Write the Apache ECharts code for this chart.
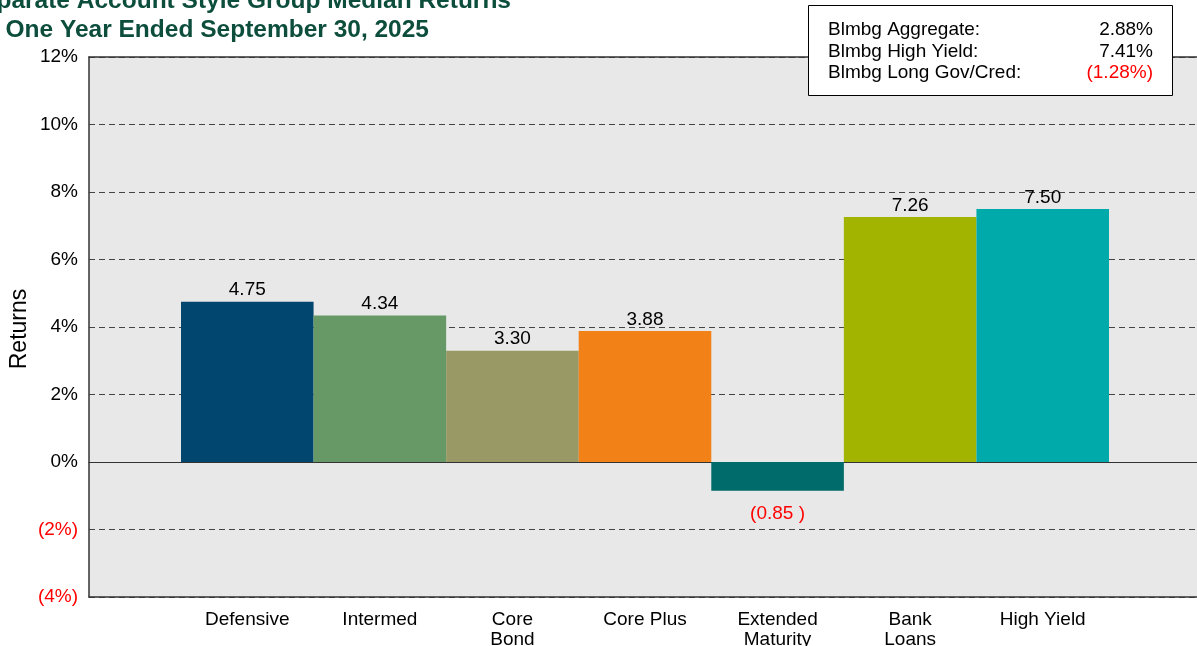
<!DOCTYPE html>
<html>
<head>
<meta charset="utf-8">
<script src="https://cdn.jsdelivr.net/npm/echarts@6/dist/echarts.min.js"></script>
<style>
html,body{margin:0;padding:0;background:#fff;}
#chart{width:1197px;height:646px;}
</style>
</head>
<body>
<div id="chart"></div>
<script>
const categories = ['Defensive', 'Intermed', 'Core\nBond', 'Core Plus', 'Extended\nMaturity', 'Bank\nLoans', 'High Yield'];
const returns = [4.75, 4.34, 3.30, 3.88, -0.85, 7.26, 7.50];
const barColors = ['#00466E', '#669966', '#999966', '#F28118', '#006B6B', '#A2B300', '#00A9AA'];
const yTicks = { min: -4, max: 12, interval: 2 };
const titleLines = ['Separate Account Style Group Median Returns', 'for One Year Ended September 30, 2025'];
const benchNames = ['Blmbg Aggregate:', 'Blmbg High Yield:', 'Blmbg Long Gov/Cred:'];
const benchValues = [2.88, 7.41, -1.28];

const FONT = 'Arial, "Liberation Sans", sans-serif';
const fmtPct = v => v < 0 ? '(' + Math.abs(v) + '%)' : v + '%';
const fmtBench = v => v < 0 ? '(' + Math.abs(v).toFixed(2) + '%)' : v.toFixed(2) + '%';

const chart = echarts.init(document.getElementById('chart'), null, { renderer: 'canvas' });

const graphics = [
  { type: 'text', x: 511, y: 1, style: { text: titleLines[0], textAlign: 'right', textVerticalAlign: 'middle', fill: '#0D4D3C', font: 'bold 24.5px ' + FONT } },
  { type: 'text', x: 429, y: 30, style: { text: titleLines[1], textAlign: 'right', textVerticalAlign: 'middle', fill: '#0D4D3C', font: 'bold 24.5px ' + FONT } },
  { type: 'text', x: 20, y: 329, rotation: Math.PI / 2, style: { text: 'Returns', textAlign: 'center', textVerticalAlign: 'middle', fill: '#000', font: '23px ' + FONT } },
  { type: 'rect', shape: { x: 808.5, y: 5.5, width: 364, height: 90 }, style: { fill: '#fff', stroke: '#000', lineWidth: 1 }, z: 10 }
];
benchNames.forEach((n, i) => {
  graphics.push({ type: 'text', x: 828, y: 30 + i * 21.5, z: 11, style: { text: n, textAlign: 'left', textVerticalAlign: 'middle', fill: '#000', font: '19px ' + FONT } });
  graphics.push({ type: 'text', x: 1153, y: 30 + i * 21.5, z: 11, style: { text: fmtBench(benchValues[i]), textAlign: 'right', textVerticalAlign: 'middle', fill: benchValues[i] < 0 ? '#FF0000' : '#000', font: '19px ' + FONT } });
});

const frameLine = { show: true, onZero: false, lineStyle: { color: '#333', width: 1.5 } };

const option = {
  animation: false,
  graphic: graphics,
  grid: [
    { left: 89, width: 1140, top: 57, bottom: 49, outerBoundsMode: 'none', containLabel: false, show: true, backgroundColor: '#E8E8E8', borderWidth: 0 },
    { left: 181, width: 928, top: 57, bottom: 49, outerBoundsMode: 'none', containLabel: false }
  ],
  xAxis: [
    { type: 'category', gridIndex: 0, data: ['a'], axisLine: { show: true, onZero: true, lineStyle: { color: '#333', width: 1 } }, axisTick: { show: false }, axisLabel: { show: false }, splitLine: { show: false } },
    { type: 'category', gridIndex: 1, data: categories, axisLine: { show: false }, axisTick: { show: false },
      axisLabel: { margin: 13, fontSize: 19, lineHeight: 20, color: '#000', fontFamily: FONT, interval: 0, align: 'center', verticalAlign: 'top' } },
    { type: 'category', gridIndex: 0, position: 'top', data: ['a'], axisLine: frameLine, axisTick: { show: false }, axisLabel: { show: false }, splitLine: { show: false } },
    { type: 'category', gridIndex: 0, position: 'bottom', data: ['a'], axisLine: frameLine, axisTick: { show: false }, axisLabel: { show: false }, splitLine: { show: false } }
  ],
  yAxis: [
    { type: 'value', gridIndex: 0, min: yTicks.min, max: yTicks.max, interval: yTicks.interval,
      axisLine: { show: true, lineStyle: { color: '#333', width: 1.5 } }, axisTick: { show: false },
      axisLabel: { formatter: fmtPct, margin: 11, fontSize: 19, fontFamily: FONT, color: v => (Number(v) < 0 ? '#FF0000' : '#000') },
      splitLine: { show: true, lineStyle: { type: [6, 4], color: '#444', width: 1 } } },
    { type: 'value', gridIndex: 1, min: yTicks.min, max: yTicks.max, interval: yTicks.interval, show: false, splitLine: { show: false } }
  ],
  series: [
    {
      type: 'bar', xAxisIndex: 1, yAxisIndex: 1, barCategoryGap: '0%', barGap: '0%',
      data: returns.map((v, i) => ({
        value: v,
        itemStyle: { color: barColors[i] },
        label: v < 0
          ? { show: true, position: 'bottom', distance: 14, color: '#FF0000', formatter: '(' + Math.abs(v).toFixed(2) + ' )', fontSize: 19, fontFamily: FONT }
          : { show: true, position: 'top', distance: 2, color: '#000', formatter: v.toFixed(2), fontSize: 19, fontFamily: FONT }
      })),
      z: 3
    }
  ]
};
chart.setOption(option);
</script>
</body>
</html>
